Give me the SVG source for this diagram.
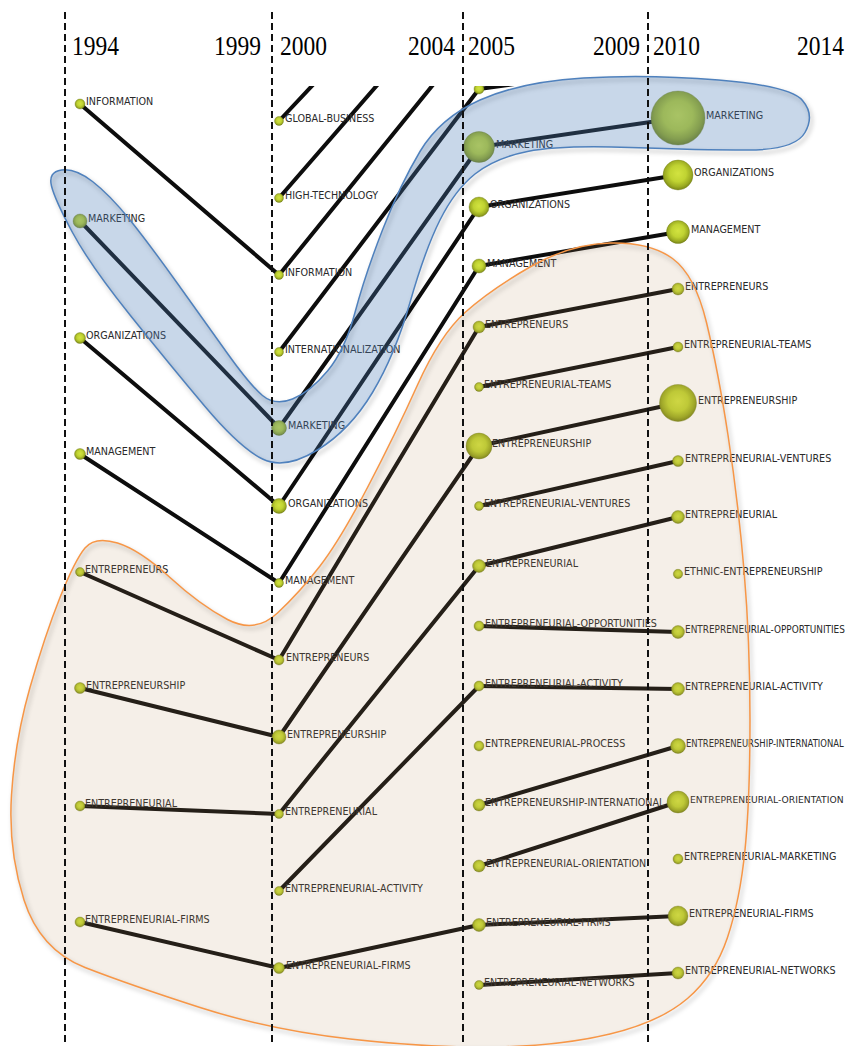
<svg xmlns="http://www.w3.org/2000/svg" width="848" height="1046" viewBox="0 0 848 1046">
<style>
.lbl{font-family:"DejaVu Sans",Verdana,sans-serif;font-size:9.6px;fill:#2a2a2a}
.yr{font-family:"Liberation Serif","Times New Roman",serif;font-size:27px;fill:#000}
.edge{stroke:#0d0d0d;stroke-width:4;fill:none;stroke-linecap:round}
.nd{fill:url(#ball);stroke:#6f7a16;stroke-width:0.6;stroke-opacity:0.6}
.dash{stroke:#111;stroke-width:2;stroke-dasharray:7,4;fill:none}
</style>
<defs>
<radialGradient id="ball" cx="50%" cy="45%" r="55%">
<stop offset="0%" stop-color="#d2e340"/>
<stop offset="50%" stop-color="#c0d332"/>
<stop offset="80%" stop-color="#9dad22"/>
<stop offset="100%" stop-color="#7a8618"/>
</radialGradient>
<clipPath id="clipTop"><rect x="0" y="86" width="848" height="960"/></clipPath>
<filter id="blur" x="-10%" y="-10%" width="120%" height="120%"><feGaussianBlur stdDeviation="2"/></filter>
</defs>
<rect width="848" height="1046" fill="#fff"/>

<g id="connectors" clip-path="url(#clipTop)">
<line class="edge" x1="80" y1="104" x2="279" y2="275"/>
<line class="edge" x1="80" y1="221" x2="279" y2="428"/>
<line class="edge" x1="80" y1="338" x2="279" y2="506"/>
<line class="edge" x1="80" y1="454" x2="279" y2="583"/>
<line class="edge" x1="80" y1="572" x2="279" y2="660"/>
<line class="edge" x1="80" y1="688" x2="279" y2="737"/>
<line class="edge" x1="80" y1="806" x2="279" y2="814"/>
<line class="edge" x1="80" y1="922" x2="279" y2="968"/>
<line class="edge" x1="279" y1="121" x2="479" y2="-92"/>
<line class="edge" x1="279" y1="198" x2="479" y2="-32"/>
<line class="edge" x1="279" y1="275" x2="479" y2="28"/>
<line class="edge" x1="279" y1="352" x2="479" y2="89"/>
<line class="edge" x1="279" y1="428" x2="479" y2="147"/>
<line class="edge" x1="279" y1="506" x2="479" y2="207"/>
<line class="edge" x1="279" y1="583" x2="479" y2="266"/>
<line class="edge" x1="279" y1="660" x2="479" y2="327"/>
<line class="edge" x1="279" y1="737" x2="479" y2="446"/>
<line class="edge" x1="279" y1="814" x2="479" y2="566"/>
<line class="edge" x1="279" y1="891" x2="479" y2="686"/>
<line class="edge" x1="279" y1="968" x2="479" y2="925"/>
<line class="edge" x1="479" y1="89" x2="678" y2="61"/>
<line class="edge" x1="479" y1="147" x2="678" y2="118"/>
<line class="edge" x1="479" y1="207" x2="678" y2="175"/>
<line class="edge" x1="479" y1="266" x2="678" y2="232"/>
<line class="edge" x1="479" y1="327" x2="678" y2="289"/>
<line class="edge" x1="479" y1="387" x2="678" y2="347"/>
<line class="edge" x1="479" y1="446" x2="678" y2="403"/>
<line class="edge" x1="479" y1="506" x2="678" y2="461"/>
<line class="edge" x1="479" y1="566" x2="678" y2="517"/>
<line class="edge" x1="479" y1="626" x2="678" y2="632"/>
<line class="edge" x1="479" y1="686" x2="678" y2="689"/>
<line class="edge" x1="479" y1="805" x2="678" y2="746"/>
<line class="edge" x1="479" y1="866" x2="678" y2="802"/>
<line class="edge" x1="479" y1="925" x2="678" y2="916"/>
<line class="edge" x1="479" y1="985" x2="678" y2="973"/>
</g>

<g id="nodes" clip-path="url(#clipTop)">
<g id="n1994-information"><circle class="nd" cx="80" cy="104" r="5"/><text class="lbl" x="86" y="105">INFORMATION</text></g>
<g id="n1994-marketing"><circle class="nd" cx="80" cy="221" r="7"/><text class="lbl" x="88" y="222">MARKETING</text></g>
<g id="n1994-organizations"><circle class="nd" cx="80" cy="338" r="5.5"/><text class="lbl" x="86" y="339">ORGANIZATIONS</text></g>
<g id="n1994-management"><circle class="nd" cx="80" cy="454" r="5.5"/><text class="lbl" x="86" y="455">MANAGEMENT</text></g>
<g id="n1994-entrepreneurs"><circle class="nd" cx="80" cy="572" r="4.5"/><text class="lbl" x="85" y="573">ENTREPRENEURS</text></g>
<g id="n1994-entrepreneurship"><circle class="nd" cx="80" cy="688" r="5.5"/><text class="lbl" x="86" y="689">ENTREPRENEURSHIP</text></g>
<g id="n1994-entrepreneurial"><circle class="nd" cx="80" cy="806" r="5"/><text class="lbl" x="85" y="807">ENTREPRENEURIAL</text></g>
<g id="n1994-entrepreneurial-firms"><circle class="nd" cx="80" cy="922" r="5"/><text class="lbl" x="85" y="923">ENTREPRENEURIAL-FIRMS</text></g>

<g id="n2000-global-business"><circle class="nd" cx="279" cy="121" r="4.5"/><text class="lbl" x="285" y="122">GLOBAL-BUSINESS</text></g>
<g id="n2000-high-technology"><circle class="nd" cx="279" cy="198" r="4.5"/><text class="lbl" x="285" y="199">HIGH-TECHNOLOGY</text></g>
<g id="n2000-information"><circle class="nd" cx="279" cy="275" r="4.5"/><text class="lbl" x="285" y="276">INFORMATION</text></g>
<g id="n2000-internationalization"><circle class="nd" cx="279" cy="352" r="4.5"/><text class="lbl" x="285" y="353">INTERNATIONALIZATION</text></g>
<g id="n2000-marketing"><circle class="nd" cx="279" cy="428" r="7.5"/><text class="lbl" x="288" y="429">MARKETING</text></g>
<g id="n2000-organizations"><circle class="nd" cx="279" cy="506" r="7.5"/><text class="lbl" x="288" y="507">ORGANIZATIONS</text></g>
<g id="n2000-management"><circle class="nd" cx="279" cy="583" r="4.5"/><text class="lbl" x="285" y="584">MANAGEMENT</text></g>
<g id="n2000-entrepreneurs"><circle class="nd" cx="279" cy="660" r="5"/><text class="lbl" x="286" y="661">ENTREPRENEURS</text></g>
<g id="n2000-entrepreneurship"><circle class="nd" cx="279" cy="737" r="7"/><text class="lbl" x="287" y="738">ENTREPRENEURSHIP</text></g>
<g id="n2000-entrepreneurial"><circle class="nd" cx="279" cy="814" r="4.5"/><text class="lbl" x="285" y="815">ENTREPRENEURIAL</text></g>
<g id="n2000-entrepreneurial-activity"><circle class="nd" cx="279" cy="891" r="4.5"/><text class="lbl" x="285" y="892">ENTREPRENEURIAL-ACTIVITY</text></g>
<g id="n2000-entrepreneurial-firms"><circle class="nd" cx="279" cy="968" r="5.5"/><text class="lbl" x="286" y="969">ENTREPRENEURIAL-FIRMS</text></g>

<g id="n2005-top"><circle class="nd" cx="479" cy="89" r="5"/></g>
<g id="n2005-marketing"><circle class="nd" cx="479" cy="147" r="15.5"/><text class="lbl" x="496" y="148">MARKETING</text></g>
<g id="n2005-organizations"><circle class="nd" cx="479" cy="207" r="10"/><text class="lbl" x="490" y="208">ORGANIZATIONS</text></g>
<g id="n2005-management"><circle class="nd" cx="479" cy="266" r="7"/><text class="lbl" x="487" y="267">MANAGEMENT</text></g>
<g id="n2005-entrepreneurs"><circle class="nd" cx="479" cy="327" r="6"/><text class="lbl" x="485" y="328">ENTREPRENEURS</text></g>
<g id="n2005-entrepreneurial-teams"><circle class="nd" cx="479" cy="387" r="4.5"/><text class="lbl" x="484" y="388">ENTREPRENEURIAL-TEAMS</text></g>
<g id="n2005-entrepreneurship"><circle class="nd" cx="479" cy="446" r="13"/><text class="lbl" x="492" y="447">ENTREPRENEURSHIP</text></g>
<g id="n2005-entrepreneurial-ventures"><circle class="nd" cx="479" cy="506" r="4.5"/><text class="lbl" x="484" y="507">ENTREPRENEURIAL-VENTURES</text></g>
<g id="n2005-entrepreneurial"><circle class="nd" cx="479" cy="566" r="6.5"/><text class="lbl" x="486" y="567">ENTREPRENEURIAL</text></g>
<g id="n2005-entrepreneurial-opportunities"><circle class="nd" cx="479" cy="626" r="5"/><text class="lbl" x="485" y="627">ENTREPRENEURIAL-OPPORTUNITIES</text></g>
<g id="n2005-entrepreneurial-activity"><circle class="nd" cx="479" cy="686" r="5"/><text class="lbl" x="485" y="687">ENTREPRENEURIAL-ACTIVITY</text></g>
<g id="n2005-entrepreneurial-process"><circle class="nd" cx="479" cy="746" r="5"/><text class="lbl" x="485" y="747">ENTREPRENEURIAL-PROCESS</text></g>
<g id="n2005-entrepreneurship-international"><circle class="nd" cx="479" cy="805" r="6"/><text class="lbl" x="485" y="806">ENTREPRENEURSHIP-INTERNATIONAL</text></g>
<g id="n2005-entrepreneurial-orientation"><circle class="nd" cx="479" cy="866" r="6"/><text class="lbl" x="486" y="867">ENTREPRENEURIAL-ORIENTATION</text></g>
<g id="n2005-entrepreneurial-firms"><circle class="nd" cx="479" cy="925" r="6.5"/><text class="lbl" x="486" y="926">ENTREPRENEURIAL-FIRMS</text></g>
<g id="n2005-entrepreneurial-networks"><circle class="nd" cx="479" cy="985" r="4.5"/><text class="lbl" x="484" y="986">ENTREPRENEURIAL-NETWORKS</text></g>

<g id="n2010-marketing"><circle class="nd" cx="678" cy="118" r="27"/><text class="lbl" x="706" y="119">MARKETING</text></g>
<g id="n2010-organizations"><circle class="nd" cx="678" cy="175" r="15"/><text class="lbl" x="694" y="176">ORGANIZATIONS</text></g>
<g id="n2010-management"><circle class="nd" cx="678" cy="232" r="11.5"/><text class="lbl" x="691" y="233">MANAGEMENT</text></g>
<g id="n2010-entrepreneurs"><circle class="nd" cx="678" cy="289" r="6"/><text class="lbl" x="685" y="290">ENTREPRENEURS</text></g>
<g id="n2010-entrepreneurial-teams"><circle class="nd" cx="678" cy="347" r="5"/><text class="lbl" x="684" y="348">ENTREPRENEURIAL-TEAMS</text></g>
<g id="n2010-entrepreneurship"><circle class="nd" cx="678" cy="403" r="18.5"/><text class="lbl" x="698" y="404">ENTREPRENEURSHIP</text></g>
<g id="n2010-entrepreneurial-ventures"><circle class="nd" cx="678" cy="461" r="5.5"/><text class="lbl" x="685" y="462">ENTREPRENEURIAL-VENTURES</text></g>
<g id="n2010-entrepreneurial"><circle class="nd" cx="678" cy="517" r="6.5"/><text class="lbl" x="685" y="518">ENTREPRENEURIAL</text></g>
<g id="n2010-ethnic-entrepreneurship"><circle class="nd" cx="678" cy="574" r="4.7"/><text class="lbl" x="684" y="575">ETHNIC-ENTREPRENEURSHIP</text></g>
<g id="n2010-entrepreneurial-opportunities"><circle class="nd" cx="678" cy="632" r="6.5"/><text class="lbl" transform="translate(685,633) scale(0.93,1)">ENTREPRENEURIAL-OPPORTUNITIES</text></g>
<g id="n2010-entrepreneurial-activity"><circle class="nd" cx="678" cy="689" r="6.5"/><text class="lbl" x="685" y="690">ENTREPRENEURIAL-ACTIVITY</text></g>
<g id="n2010-entrepreneurship-international"><circle class="nd" cx="678" cy="746" r="7.5"/><text class="lbl" transform="translate(686,747) scale(0.88,1)">ENTREPRENEURSHIP-INTERNATIONAL</text></g>
<g id="n2010-entrepreneurial-orientation"><circle class="nd" cx="678" cy="802" r="11"/><text class="lbl" transform="translate(690,803) scale(0.96,1)">ENTREPRENEURIAL-ORIENTATION</text></g>
<g id="n2010-entrepreneurial-marketing"><circle class="nd" cx="678" cy="859" r="5"/><text class="lbl" x="684" y="860">ENTREPRENEURIAL-MARKETING</text></g>
<g id="n2010-entrepreneurial-firms"><circle class="nd" cx="678" cy="916" r="10"/><text class="lbl" x="689" y="917">ENTREPRENEURIAL-FIRMS</text></g>
<g id="n2010-entrepreneurial-networks"><circle class="nd" cx="678" cy="973" r="6"/><text class="lbl" x="685" y="974">ENTREPRENEURIAL-NETWORKS</text></g>
</g>

<g id="clusters">
<path id="cluster-blue-shadow" transform="translate(2,3)" filter="url(#blur)" fill="none" stroke="#000" stroke-opacity="0.18" stroke-width="3" d="M51.5,186 Q48,172 61.5,170 Q75,168 92.5,181.5 Q110,195 130,220 Q150,245 177.5,283.5 Q205,322 227.5,353.5 Q250,385 262.5,395.5 Q275,406 292.5,399 Q310,392 327.5,371 Q345,350 355,312.5 Q365,275 382.5,230 Q400,185 420,151.5 Q440,118 480,100 Q520,82 583.5,78 Q647,74 718.5,80 Q790,86 802.5,100.5 Q815,115 805,132.5 Q795,150 747.5,150 Q700,150 630,147.5 Q560,145 527.5,151.5 Q495,158 475,174 Q455,190 440,220 Q425,250 410,302.5 Q395,355 372.5,392.5 Q350,430 317.5,450 Q285,470 262.5,459 Q240,448 205,406.5 Q170,365 130,315 Q90,265 72.5,232.5 Q55,200 51.5,186 Z"/>
<path id="cluster-orange-shadow" transform="translate(2,3)" filter="url(#blur)" fill="none" stroke="#000" stroke-opacity="0.15" stroke-width="3" d="M85,548 Q95,536 117.5,543 Q140,550 170,577.5 Q200,605 227.5,619.5 Q255,634 277.5,613 Q300,592 320,566 Q340,540 367.5,487.5 Q395,435 417.5,385 Q440,335 465,312.5 Q490,290 530,267 Q570,244 610,243 Q650,242 672.5,258.5 Q695,275 706.5,322.5 Q718,370 728,435 Q738,500 744,570 Q750,640 750,720 Q750,800 745,850 Q740,900 727.5,937.5 Q715,975 687.5,998.5 Q660,1022 610,1034 Q560,1046 495,1047 Q430,1048 350,1039 Q270,1030 200,1007.5 Q130,985 85,967.5 Q40,950 24,900 Q8,850 11.5,795 Q15,740 30,687.5 Q45,635 60,597.5 Q75,560 85,548 Z"/>
<path id="cluster-blue" fill="rgb(77,126,184)" fill-opacity="0.31" stroke="#4f81bd" stroke-width="1.5" d="M51.5,186 Q48,172 61.5,170 Q75,168 92.5,181.5 Q110,195 130,220 Q150,245 177.5,283.5 Q205,322 227.5,353.5 Q250,385 262.5,395.5 Q275,406 292.5,399 Q310,392 327.5,371 Q345,350 355,312.5 Q365,275 382.5,230 Q400,185 420,151.5 Q440,118 480,100 Q520,82 583.5,78 Q647,74 718.5,80 Q790,86 802.5,100.5 Q815,115 805,132.5 Q795,150 747.5,150 Q700,150 630,147.5 Q560,145 527.5,151.5 Q495,158 475,174 Q455,190 440,220 Q425,250 410,302.5 Q395,355 372.5,392.5 Q350,430 317.5,450 Q285,470 262.5,459 Q240,448 205,406.5 Q170,365 130,315 Q90,265 72.5,232.5 Q55,200 51.5,186 Z"/>
<path id="cluster-orange" fill="rgb(185,143,93)" fill-opacity="0.14" stroke="#f79646" stroke-width="1.5" d="M85,548 Q95,536 117.5,543 Q140,550 170,577.5 Q200,605 227.5,619.5 Q255,634 277.5,613 Q300,592 320,566 Q340,540 367.5,487.5 Q395,435 417.5,385 Q440,335 465,312.5 Q490,290 530,267 Q570,244 610,243 Q650,242 672.5,258.5 Q695,275 706.5,322.5 Q718,370 728,435 Q738,500 744,570 Q750,640 750,720 Q750,800 745,850 Q740,900 727.5,937.5 Q715,975 687.5,998.5 Q660,1022 610,1034 Q560,1046 495,1047 Q430,1048 350,1039 Q270,1030 200,1007.5 Q130,985 85,967.5 Q40,950 24,900 Q8,850 11.5,795 Q15,740 30,687.5 Q45,635 60,597.5 Q75,560 85,548 Z"/>
</g>

<g id="timeline">
<line class="dash" x1="65" y1="12" x2="65" y2="1046"/>
<line class="dash" x1="272" y1="12" x2="272" y2="1046"/>
<line class="dash" x1="463" y1="12" x2="463" y2="1046"/>
<line class="dash" x1="648" y1="12" x2="648" y2="1046"/>
<text class="yr" transform="translate(72,55) scale(0.87,1)">1994</text>
<text class="yr" transform="translate(214,55) scale(0.87,1)">1999</text>
<text class="yr" transform="translate(280,55) scale(0.87,1)">2000</text>
<text class="yr" transform="translate(408,55) scale(0.87,1)">2004</text>
<text class="yr" transform="translate(468,55) scale(0.87,1)">2005</text>
<text class="yr" transform="translate(593,55) scale(0.87,1)">2009</text>
<text class="yr" transform="translate(653,55) scale(0.87,1)">2010</text>
<text class="yr" transform="translate(797,55) scale(0.87,1)">2014</text>
</g>
</svg>
